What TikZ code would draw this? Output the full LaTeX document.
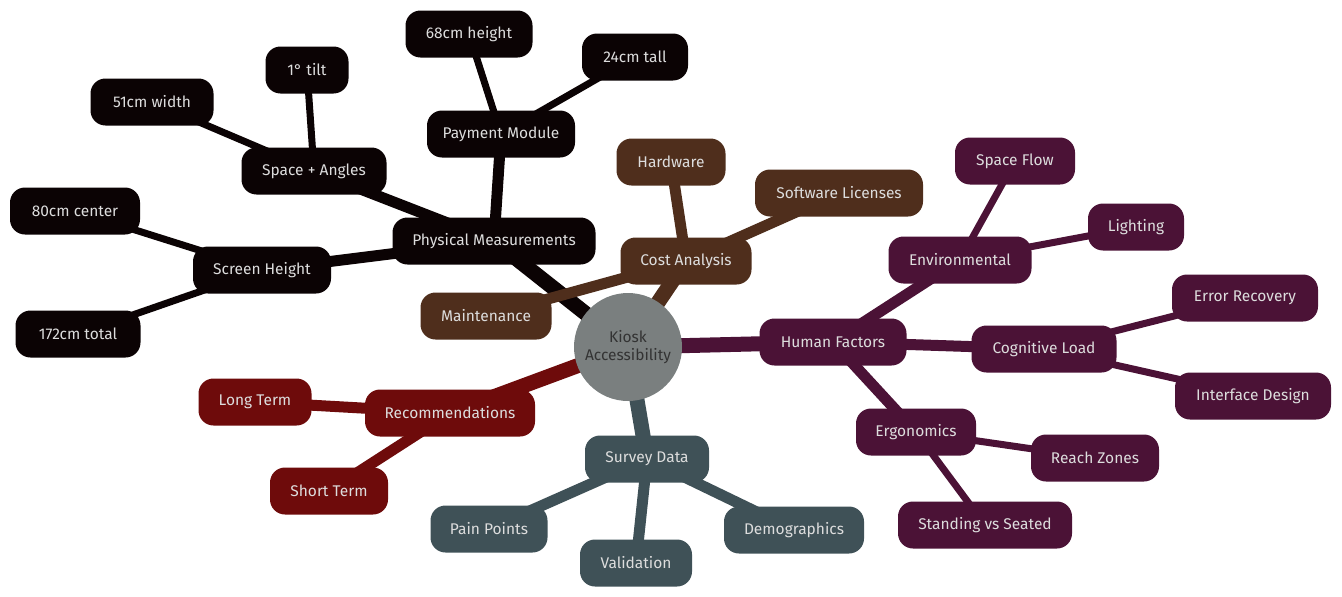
\documentclass[tikz,border=0pt]{standalone}
\usepackage{fontspec}
\setmainfont{Fira Sans}
\definecolor{cblack}{HTML}{0B0304}
\definecolor{cbrown}{HTML}{4F2E1C}
\definecolor{cpurple}{HTML}{4B1236}
\definecolor{cred}{HTML}{6E0B0B}
\definecolor{cslate}{HTML}{3F5157}
\definecolor{croot}{HTML}{7A7F7F}
\definecolor{ctext}{HTML}{DDDDDD}
\pgfdeclarelayer{bg}
\pgfsetlayers{bg,main}
\begin{document}
\begin{tikzpicture}[x=1pt,y=-1pt,
  box/.style={rounded corners=15pt, minimum height=47pt, inner sep=0pt, text=ctext, font=\fontsize{15.5}{18}\selectfont},
  sblack/.style={box, fill=cblack},
  sbrown/.style={box, fill=cbrown},
  spurple/.style={box, fill=cpurple},
  sred/.style={box, fill=cred},
  sslate/.style={box, fill=cslate},
  e0/.style={line width=15pt},
  e1/.style={line width=11pt},
  e2/.style={line width=7pt}]
\useasboundingbox (0,0) rectangle (1342,597);
% nodes
\node[circle, fill=croot, minimum size=108pt, inner sep=0pt, text=black!80, align=center, font=\fontsize{15.5}{18}\selectfont] (root) at (628,347) {Kiosk\\Accessibility};
% physical
\node[sblack, minimum width=203pt] (pm) at (494,241) {Physical Measurements};
\node[sblack, minimum width=148pt] (pay) at (501,134) {Payment Module};
\node[sblack, minimum width=127pt] (h68) at (469,34) {68cm height};
\node[sblack, minimum width=106pt] (t24) at (635,57) {24cm tall};
\node[sblack, minimum width=145pt] (sa) at (314,171) {Space + Angles};
\node[sblack, minimum width=123pt] (w51) at (152,102) {51cm width};
\node[sblack, minimum width=83pt] (tilt) at (307,70) {1\textdegree{} tilt};
\node[sblack, minimum width=138pt] (sh) at (262,270) {Screen Height};
\node[sblack, minimum width=130pt] (c80) at (75,211) {80cm center};
\node[sblack, minimum width=125pt] (t172) at (78,334) {172cm total};
% cost
\node[sbrown, minimum width=131pt] (cost) at (686,261) {Cost Analysis};
\node[sbrown, minimum width=109pt] (hw) at (671,162) {Hardware};
\node[sbrown, minimum width=168pt] (sw) at (839,193) {Software Licenses};
\node[sbrown, minimum width=131pt] (mt) at (486,316) {Maintenance};
% human
\node[spurple, minimum width=147pt] (hf) at (833,342) {Human Factors};
\node[spurple, minimum width=143pt] (env) at (960,260) {Environmental};
\node[spurple, minimum width=120pt] (sf) at (1015,161) {Space Flow};
\node[spurple, minimum width=96pt] (li) at (1136,227) {Lighting};
\node[spurple, minimum width=145pt] (cl) at (1044,349) {Cognitive Load};
\node[spurple, minimum width=146pt] (er) at (1245,298) {Error Recovery};
\node[spurple, minimum width=156pt] (id) at (1253,396) {Interface Design};
\node[spurple, minimum width=120pt] (erg) at (916,432) {Ergonomics};
\node[spurple, minimum width=128pt] (rz) at (1095,458) {Reach Zones};
\node[spurple, minimum width=174pt] (ss) at (985,525) {Standing vs Seated};
% recommendations
\node[sred, minimum width=170pt] (rec) at (450,413) {Recommendations};
\node[sred, minimum width=113pt] (lt) at (255,402) {Long Term};
\node[sred, minimum width=118pt] (st) at (329,491) {Short Term};
% survey
\node[sslate, minimum width=124pt] (sd) at (647,459) {Survey Data};
\node[sslate, minimum width=117pt] (pp) at (489,529) {Pain Points};
\node[sslate, minimum width=112pt] (va) at (636,563) {Validation};
\node[sslate, minimum width=140pt] (de) at (794,530) {Demographics};
% edges
\begin{pgfonlayer}{bg}
\begin{scope}[draw=cblack]
\draw[e0] (root.center) -- (pm.center);
\draw[e1] (pm.center) -- (pay.center);
\draw[e2] (pay.center) -- (h68.center);
\draw[e2] (pay.center) -- (t24.center);
\draw[e1] (pm.center) -- (sa.center);
\draw[e2] (sa.center) -- (w51.center);
\draw[e2] (sa.center) -- (tilt.center);
\draw[e1] (pm.center) -- (sh.center);
\draw[e2] (sh.center) -- (c80.center);
\draw[e2] (sh.center) -- (t172.center);
\end{scope}
\begin{scope}[draw=cbrown]
\draw[e0] (root.center) -- (cost.center);
\draw[e1] (cost.center) -- (hw.center);
\draw[e1] (cost.center) -- (sw.center);
\draw[e1] (cost.center) -- (mt.center);
\end{scope}
\begin{scope}[draw=cpurple]
\draw[e0] (root.center) -- (hf.center);
\draw[e1] (hf.center) -- (env.center);
\draw[e2] (env.center) -- (sf.center);
\draw[e2] (env.center) -- (li.center);
\draw[e1] (hf.center) -- (cl.center);
\draw[e2] (cl.center) -- (er.center);
\draw[e2] (cl.center) -- (id.center);
\draw[e1] (hf.center) -- (erg.center);
\draw[e2] (erg.center) -- (rz.center);
\draw[e2] (erg.center) -- (ss.center);
\end{scope}
\begin{scope}[draw=cred]
\draw[e0] (root.center) -- (rec.center);
\draw[e1] (rec.center) -- (lt.center);
\draw[e1] (rec.center) -- (st.center);
\end{scope}
\begin{scope}[draw=cslate]
\draw[e0] (root.center) -- (sd.center);
\draw[e1] (sd.center) -- (pp.center);
\draw[e1] (sd.center) -- (va.center);
\draw[e1] (sd.center) -- (de.center);
\end{scope}
\end{pgfonlayer}
\end{tikzpicture}
\end{document}
